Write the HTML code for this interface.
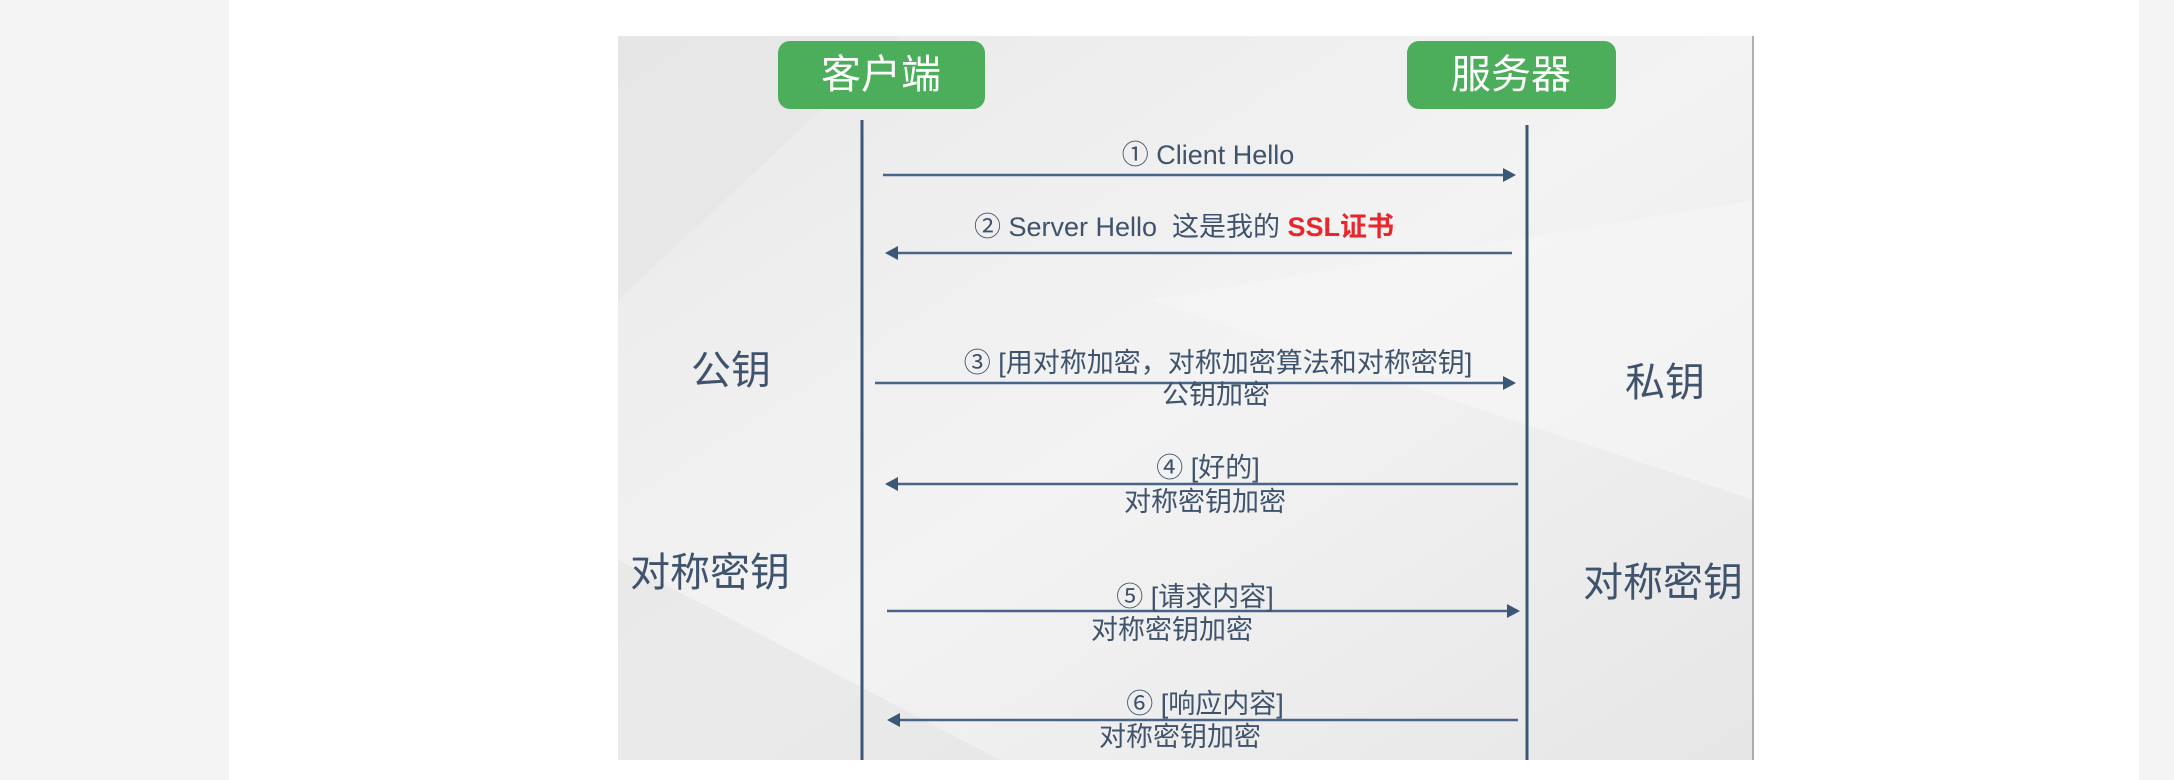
<!DOCTYPE html>
<html><head><meta charset="utf-8"><style>
html,body{margin:0;padding:0;width:2174px;height:780px;overflow:hidden;background:#f4f4f4;}
</style></head><body>
<svg width="2174" height="780" viewBox="0 0 2174 780" xmlns="http://www.w3.org/2000/svg" style="position:absolute;left:0;top:0">
<defs>
<linearGradient id="bg" x1="0" y1="0" x2="1" y2="1">
<stop offset="0" stop-color="#e9e9e9"/><stop offset="0.5" stop-color="#f3f3f3"/><stop offset="1" stop-color="#e6e6e6"/>
</linearGradient>
</defs>
<rect x="229" y="0" width="1910" height="780" fill="#ffffff"/>
<rect x="618" y="36" width="1136" height="724" fill="url(#bg)"/>
<polygon points="618,36 900,36 618,300" fill="#e4e4e4" opacity="0.6"/>
<polygon points="1150,300 1754,200 1754,500" fill="#f7f7f7" opacity="0.6"/>
<polygon points="618,560 1000,760 618,760" fill="#e2e2e2" opacity="0.5"/>
<line x1="1753" y1="36" x2="1753" y2="760" stroke="#999" stroke-width="1.5"/>
<g font-family="Liberation Sans, Noto Sans CJK SC, sans-serif">
<rect x="778" y="41" width="207" height="68" rx="12" fill="#4cad5b"/>
<rect x="1407" y="41" width="209" height="68" rx="12" fill="#4cad5b"/>
<text x="881" y="88" font-size="40" fill="#fff" text-anchor="middle">客户端</text>
<text x="1511" y="88" font-size="40" fill="#fff" text-anchor="middle">服务器</text>
<line x1="862" y1="120" x2="862" y2="760" stroke="#3b5778" stroke-width="3"/>
<line x1="1527" y1="125" x2="1527" y2="760" stroke="#3b5778" stroke-width="3"/>
<g stroke="#4a6488" stroke-width="2.5" fill="#3b5778">
<line x1="883" y1="175" x2="1505" y2="175"/><polygon points="1516,175 1503,168 1503,182" stroke="none"/>
<line x1="896" y1="253" x2="1512" y2="253"/><polygon points="885,253 898,246 898,260" stroke="none"/>
<line x1="875" y1="383" x2="1505" y2="383"/><polygon points="1516,383 1503,376 1503,390" stroke="none"/>
<line x1="896" y1="484" x2="1518" y2="484"/><polygon points="885,484 898,477 898,491" stroke="none"/>
<line x1="887" y1="611" x2="1510" y2="611"/><polygon points="1520,611 1507,604 1507,618" stroke="none"/>
<line x1="898" y1="720" x2="1518" y2="720"/><polygon points="887,720 900,713 900,727" stroke="none"/>
</g>
<g fill="#3f536c" font-size="27" text-anchor="middle">
<text x="1208" y="164">① Client Hello</text>
<text x="1184" y="236">② Server Hello&#160;&#160;这是我的 <tspan fill="#e8262b" font-weight="bold">SSL证书</tspan></text>
<text x="1218" y="372">③ [用对称加密，对称加密算法和对称密钥]</text>
<text x="1216" y="404">公钥加密</text>
<text x="1208" y="477">④ [好的]</text>
<text x="1205" y="511">对称密钥加密</text>
<text x="1195" y="606">⑤ [请求内容]</text>
<text x="1172" y="639">对称密钥加密</text>
<text x="1205" y="713">⑥ [响应内容]</text>
<text x="1180" y="746">对称密钥加密</text>
</g>
<g fill="#3f536c" font-size="40" text-anchor="middle">
<text x="731" y="384">公钥</text>
<text x="1665" y="396">私钥</text>
<text x="710" y="586">对称密钥</text>
<text x="1663" y="596">对称密钥</text>
</g>
</g>
</svg>
</body></html>
